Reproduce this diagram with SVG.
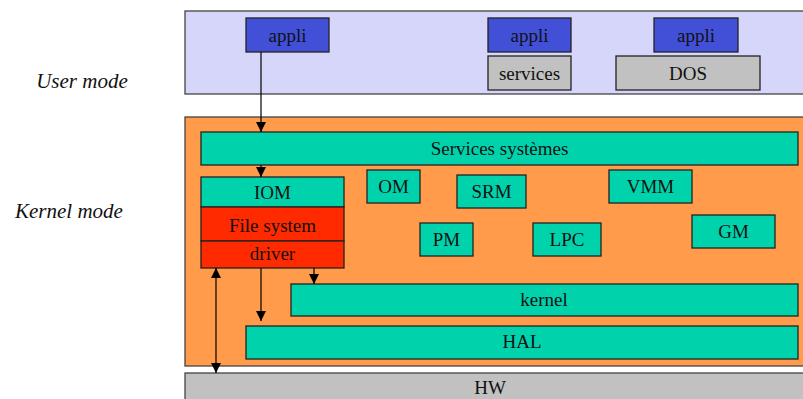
<svg xmlns="http://www.w3.org/2000/svg" width="803" height="399" viewBox="0 0 803 399">
  <style>
    text { font-family: "Liberation Serif", "Times New Roman", serif; font-size: 19px; fill: #111; text-anchor: middle; dominant-baseline: central; }
    .label { font-style: italic; font-size: 21px; }
    .box { stroke: #222; stroke-width: 1.3; }
    .layer { stroke: #444; stroke-width: 1.3; }
    .user { fill: #D5D6FA; }
    .kmode { fill: #FF9B4A; }
    .appli { fill: #4250D8; }
    .grey { fill: #C0C1C0; }
    .teal { fill: #00D3AC; }
    .red { fill: #FF2A00; }
    .conn line { stroke: #000; stroke-width: 1.2; fill: none; }
  </style>
  <defs>
    <marker id="arrow" viewBox="0 0 10 10" refX="10" refY="5" markerWidth="10" markerHeight="10" markerUnits="userSpaceOnUse" orient="auto-start-reverse">
      <path d="M0,0 L10,5 L0,10 z" fill="#000"/>
    </marker>
  </defs>

  <text class="label" x="82" y="81">User mode</text>
  <text class="label" x="69" y="211">Kernel mode</text>

  <!-- mode layers -->
  <g id="user-mode"><rect class="layer user" x="185" y="11" width="625" height="83"/></g>
  <g id="kernel-mode"><rect class="layer kmode" x="185" y="117" width="625" height="249"/></g>
  <g id="hw"><rect class="layer grey" x="185" y="373" width="625" height="30"/><text x="490" y="387">HW</text></g>

  <!-- user-mode nodes -->
  <g id="appli1"><rect class="box appli" x="246" y="18" width="83" height="34"/><text x="287.5" y="35">appli</text></g>
  <g id="appli2"><rect class="box appli" x="488" y="18" width="83" height="34"/><text x="529.5" y="35">appli</text></g>
  <g id="services"><rect class="box grey" x="488" y="56" width="83" height="34"/><text x="529.5" y="73">services</text></g>
  <g id="appli3"><rect class="box appli" x="654" y="18" width="84" height="34"/><text x="696" y="35">appli</text></g>
  <g id="dos"><rect class="box grey" x="616" y="56" width="144" height="34"/><text x="688" y="73">DOS</text></g>

  <!-- kernel-mode nodes -->
  <g id="services-systemes"><rect class="box teal" x="201" y="132" width="597" height="33"/><text x="499.5" y="148.5">Services systèmes</text></g>
  <g id="iom"><rect class="box teal" x="201" y="177" width="143" height="30"/><text x="272.5" y="192.5">IOM</text></g>
  <g id="file-system"><rect class="box red" x="201" y="207" width="143" height="34"/><text x="272.5" y="225">File system</text></g>
  <g id="driver"><rect class="box red" x="201" y="241" width="143" height="27"/><text x="272.5" y="253">driver</text></g>
  <g id="om"><rect class="box teal" x="367" y="170" width="53" height="33"/><text x="393.5" y="186">OM</text></g>
  <g id="srm"><rect class="box teal" x="457" y="175" width="69" height="33"/><text x="491.5" y="191">SRM</text></g>
  <g id="pm"><rect class="box teal" x="420" y="223" width="53" height="33"/><text x="446.5" y="239">PM</text></g>
  <g id="lpc"><rect class="box teal" x="533" y="223" width="68" height="33"/><text x="567" y="239">LPC</text></g>
  <g id="vmm"><rect class="box teal" x="609" y="170" width="83" height="33"/><text x="650.5" y="186">VMM</text></g>
  <g id="gm"><rect class="box teal" x="692" y="215" width="83" height="33"/><text x="733.5" y="231">GM</text></g>
  <g id="kernel"><rect class="box teal" x="291" y="284" width="507" height="32"/><text x="544" y="299">kernel</text></g>
  <g id="hal"><rect class="box teal" x="246" y="326" width="552" height="33"/><text x="522" y="341">HAL</text></g>

  <!-- connectors -->
  <g class="conn">
    <line x1="261" y1="52" x2="261" y2="132" marker-end="url(#arrow)"/>
    <line x1="261" y1="165" x2="261" y2="177" marker-end="url(#arrow)"/>
    <line x1="261" y1="268" x2="261" y2="321" marker-end="url(#arrow)"/>
    <line x1="314" y1="268" x2="314" y2="284" marker-end="url(#arrow)"/>
    <line x1="216" y1="268" x2="216" y2="373" marker-start="url(#arrow)" marker-end="url(#arrow)"/>
  </g>
</svg>
